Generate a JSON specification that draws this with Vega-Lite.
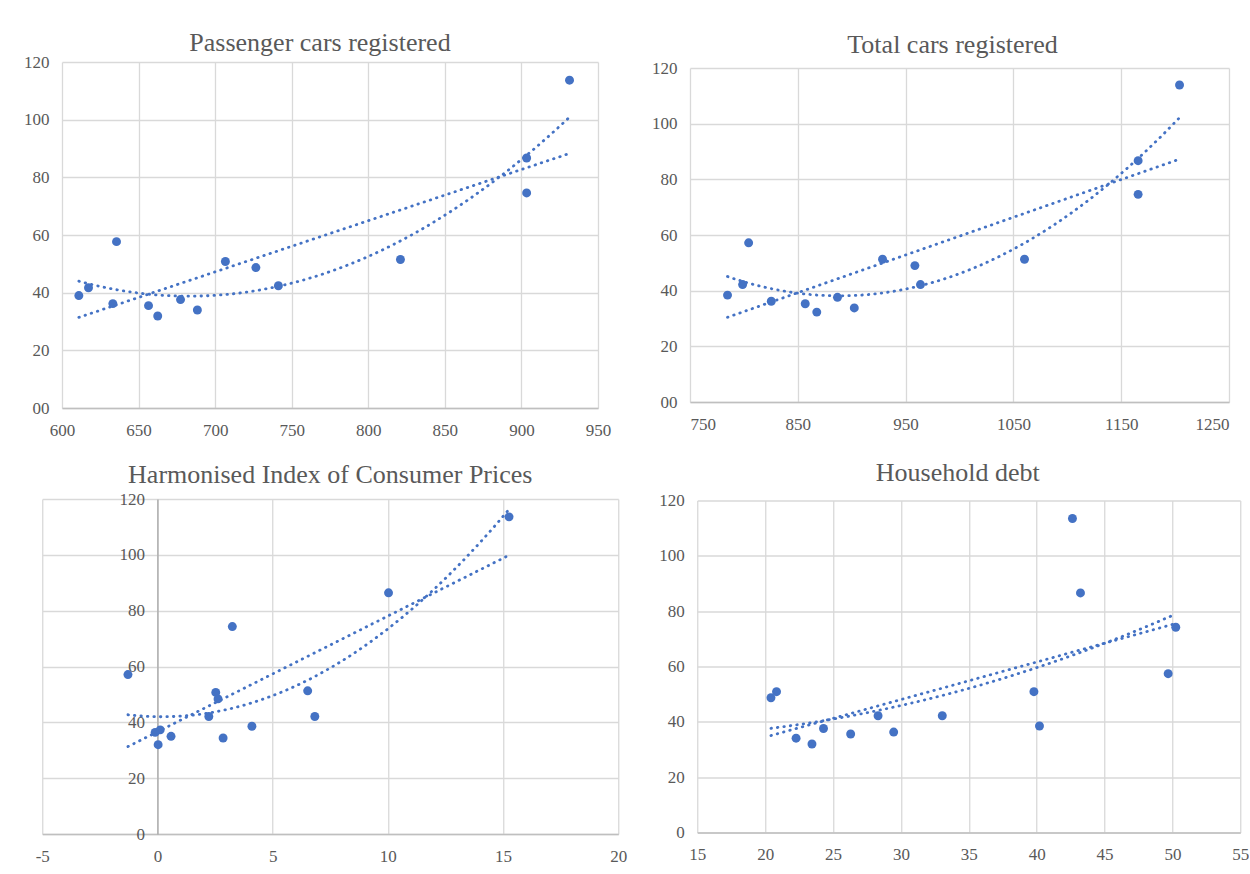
{
  "$schema": "https://vega.github.io/schema/vega-lite/v6.json",
  "background": "white",
  "padding": {"left": 23, "top": 30, "right": 0, "bottom": 0},
  "config": {
    "view": {"stroke": null},
    "axis": {"labelFont": "Liberation Serif", "labelFontSize": 17, "labelColor": "#595959", "gridColor": "#D9D9D9", "gridWidth": 1.3, "ticks": false, "domain": false, "labelFlush": false, "labelOverlap": false},
    "axisX": {"domain": true, "domainColor": "#BFBFBF", "domainWidth": 1.5, "labelPadding": 14},
    "axisY": {"labelPadding": 13},
    "title": {"font": "Liberation Serif", "fontSize": 26, "fontWeight": "normal", "color": "#595959", "anchor": "middle"}
  },
  "datasets": {
    "p1": [
      {"x": 611.0, "y": 39.0}, {"x": 617.3, "y": 41.7}, {"x": 633.2, "y": 36.2}, {"x": 635.6, "y": 57.7},
      {"x": 656.5, "y": 35.5}, {"x": 662.5, "y": 31.9}, {"x": 677.4, "y": 37.6}, {"x": 688.4, "y": 34.0},
      {"x": 706.7, "y": 50.8}, {"x": 726.6, "y": 48.7}, {"x": 741.3, "y": 42.4}, {"x": 821.0, "y": 51.5},
      {"x": 903.4, "y": 86.7}, {"x": 903.4, "y": 74.6}, {"x": 931.4, "y": 113.7}
    ],
    "p2": [
      {"x": 784.8, "y": 38.4}, {"x": 798.8, "y": 42.2}, {"x": 804.4, "y": 57.2}, {"x": 825.4, "y": 36.2},
      {"x": 856.9, "y": 35.3}, {"x": 867.6, "y": 32.3}, {"x": 886.8, "y": 37.6}, {"x": 902.4, "y": 33.8},
      {"x": 928.6, "y": 51.3}, {"x": 958.6, "y": 49.0}, {"x": 963.8, "y": 42.2}, {"x": 1060.3, "y": 51.3},
      {"x": 1165.7, "y": 86.7}, {"x": 1165.7, "y": 74.6}, {"x": 1204.1, "y": 113.9}
    ],
    "p3": [
      {"x": -1.28, "y": 57.1}, {"x": -0.10, "y": 36.4}, {"x": 0.12, "y": 37.3}, {"x": 0.03, "y": 32.0},
      {"x": 0.59, "y": 35.0}, {"x": 2.23, "y": 42.1}, {"x": 2.53, "y": 50.7}, {"x": 2.63, "y": 48.4},
      {"x": 2.85, "y": 34.4}, {"x": 3.25, "y": 74.3}, {"x": 4.10, "y": 38.6}, {"x": 6.52, "y": 51.3},
      {"x": 6.83, "y": 42.1}, {"x": 10.03, "y": 86.4}, {"x": 15.26, "y": 113.6}
    ],
    "p4": [
      {"x": 20.43, "y": 48.7}, {"x": 20.84, "y": 50.9}, {"x": 22.28, "y": 34.1}, {"x": 23.45, "y": 32.0},
      {"x": 24.30, "y": 37.6}, {"x": 26.30, "y": 35.6}, {"x": 28.32, "y": 42.2}, {"x": 29.47, "y": 36.3},
      {"x": 33.05, "y": 42.2}, {"x": 39.80, "y": 50.9}, {"x": 40.21, "y": 38.5}, {"x": 42.64, "y": 113.5},
      {"x": 43.23, "y": 86.6}, {"x": 49.69, "y": 57.4}, {"x": 50.25, "y": 74.2}
    ]
  },
  "spacing": 21,
  "center": true,
  "vconcat": [
    {
      "spacing": 40,
      "center": true,
      "hconcat": [
        {
          "width": 536, "height": 346,
          "title": {"text": "Passenger cars registered", "dx": -10, "offset": -3},
          "data": {"name": "p1"},
          "encoding": {
            "x": {"field": "x", "type": "quantitative", "title": null, "scale": {"domain": [600, 950], "nice": false, "zero": false}, "axis": {"values": [600, 650, 700, 750, 800, 850, 900, 950], "labelExpr": "'' + datum.value"}},
            "y": {"field": "y", "type": "quantitative", "title": null, "scale": {"domain": [0, 120], "nice": false}, "axis": {"values": [0, 20, 40, 60, 80, 100, 120], "labelExpr": "datum.value == 0 ? '00' : '' + datum.value"}}
          },
          "layer": [
            {"mark": {"type": "point", "filled": true, "size": 80, "color": "#4472C4", "opacity": 1}},
            {"transform": [{"regression": "y", "on": "x"}], "mark": {"type": "line", "color": "#4472C4", "strokeWidth": 2.8, "strokeDash": [0.5, 6], "strokeCap": "round"}},
            {"transform": [{"regression": "y", "on": "x", "method": "poly", "order": 2}], "mark": {"type": "line", "color": "#4472C4", "strokeWidth": 2.8, "strokeDash": [0.5, 6], "strokeCap": "round"}}
          ]
        },
        {
          "width": 539, "height": 334,
          "title": {"text": "Total cars registered", "dx": -7, "offset": 1},
          "data": {"name": "p2"},
          "encoding": {
            "x": {"field": "x", "type": "quantitative", "title": null, "scale": {"domain": [750, 1250], "nice": false, "zero": false}, "axis": {"values": [750, 850, 950, 1050, 1150, 1250], "labelExpr": "'' + datum.value", "labelFlush": true}},
            "y": {"field": "y", "type": "quantitative", "title": null, "scale": {"domain": [0, 120], "nice": false}, "axis": {"values": [0, 20, 40, 60, 80, 100, 120], "labelExpr": "datum.value == 0 ? '00' : '' + datum.value"}}
          },
          "layer": [
            {"mark": {"type": "point", "filled": true, "size": 80, "color": "#4472C4", "opacity": 1}},
            {"transform": [{"regression": "y", "on": "x"}], "mark": {"type": "line", "color": "#4472C4", "strokeWidth": 2.8, "strokeDash": [0.5, 6], "strokeCap": "round"}},
            {"transform": [{"regression": "y", "on": "x", "method": "poly", "order": 2}], "mark": {"type": "line", "color": "#4472C4", "strokeWidth": 2.8, "strokeDash": [0.5, 6], "strokeCap": "round"}}
          ]
        }
      ]
    },
    {
      "spacing": 31,
      "center": true,
      "hconcat": [
        {
          "width": 576, "height": 335,
          "title": {"text": "Harmonised Index of Consumer Prices", "offset": 2},
          "data": {"name": "p3"},
          "encoding": {
            "x": {"field": "x", "type": "quantitative", "title": null, "scale": {"domain": [-5, 20], "nice": false, "zero": false}, "axis": {"values": [-5, 0, 5, 10, 15, 20], "labelExpr": "'' + datum.value"}},
            "y": {"field": "y", "type": "quantitative", "title": null, "scale": {"domain": [0, 120], "nice": false}, "axis": {"orient": "right", "values": [0, 20, 40, 60, 80, 100, 120], "labelExpr": "'' + datum.value", "offset": -460.8, "labelAlign": "right", "labelPadding": -13, "domain": true, "domainColor": "#A6A6A6", "domainWidth": 1.3}}
          },
          "layer": [
            {"mark": {"type": "point", "filled": true, "size": 80, "color": "#4472C4", "opacity": 1}},
            {"transform": [{"regression": "y", "on": "x"}], "mark": {"type": "line", "color": "#4472C4", "strokeWidth": 2.8, "strokeDash": [0.5, 6], "strokeCap": "round"}},
            {"transform": [{"regression": "y", "on": "x", "method": "poly", "order": 2}], "mark": {"type": "line", "color": "#4472C4", "strokeWidth": 2.8, "strokeDash": [0.5, 6], "strokeCap": "round"}}
          ]
        },
        {
          "width": 543, "height": 332,
          "title": {"text": "Household debt", "dx": -11, "offset": 6},
          "data": {"name": "p4"},
          "encoding": {
            "x": {"field": "x", "type": "quantitative", "title": null, "scale": {"domain": [15, 55], "nice": false, "zero": false}, "axis": {"values": [15, 20, 25, 30, 35, 40, 45, 50, 55], "labelExpr": "'' + datum.value"}},
            "y": {"field": "y", "type": "quantitative", "title": null, "scale": {"domain": [0, 120], "nice": false}, "axis": {"values": [0, 20, 40, 60, 80, 100, 120], "labelExpr": "'' + datum.value"}}
          },
          "layer": [
            {"mark": {"type": "point", "filled": true, "size": 80, "color": "#4472C4", "opacity": 1}},
            {"transform": [{"regression": "y", "on": "x"}], "mark": {"type": "line", "color": "#4472C4", "strokeWidth": 2.8, "strokeDash": [0.5, 6], "strokeCap": "round"}},
            {"transform": [{"regression": "y", "on": "x", "method": "poly", "order": 2}], "mark": {"type": "line", "color": "#4472C4", "strokeWidth": 2.8, "strokeDash": [0.5, 6], "strokeCap": "round"}}
          ]
        }
      ]
    }
  ]
}
